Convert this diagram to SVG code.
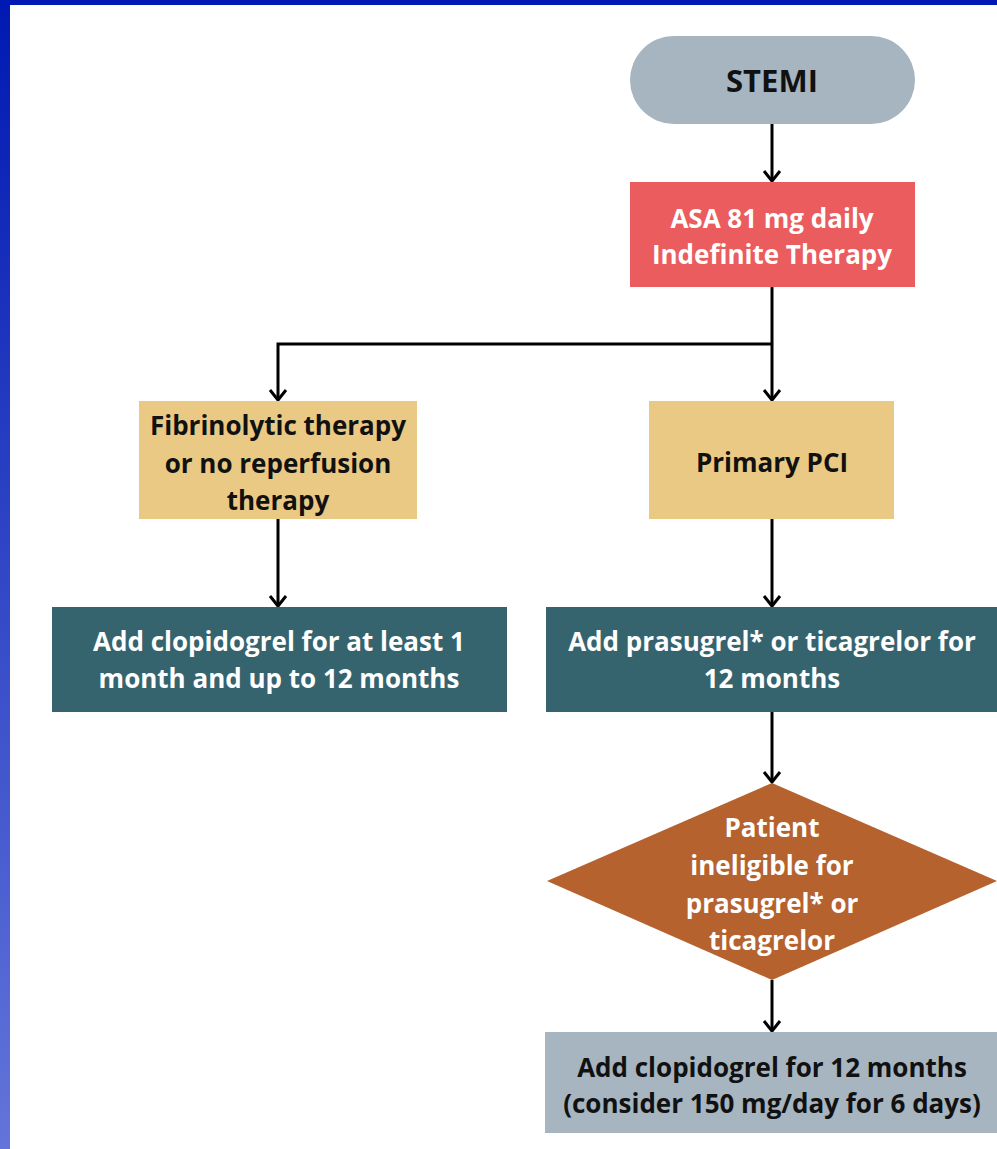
<svg xmlns="http://www.w3.org/2000/svg" width="997" height="1149" viewBox="0 0 997 1149">
<defs>
<linearGradient id="side" x1="0" y1="0" x2="0" y2="1">
<stop offset="0" stop-color="#0019B2"/>
<stop offset="1" stop-color="#6375DA"/>
</linearGradient>
<marker id="arr" viewBox="0 0 20 20" refX="17" refY="10" markerWidth="20" markerHeight="20" markerUnits="userSpaceOnUse" orient="auto">
<path d="M7,2 L17,10 L7,18" fill="none" stroke="#000" stroke-width="3"/>
</marker>
</defs>
<style>
.t{font-family:"Open Sans",Lato,"Liberation Sans",sans-serif;font-weight:bold;font-size:26px;text-anchor:middle;dominant-baseline:central}
.big{font-size:31px}
.w{fill:#ffffff}
.k{fill:#111111}
.c{fill:none;stroke:#000;stroke-width:3}
</style>
<rect width="997" height="1149" fill="#ffffff"/>
<rect x="0" y="0" width="997" height="5" fill="#0019B2"/>
<rect x="0" y="0" width="10" height="1149" fill="url(#side)"/>
<g id="connectors">
<path class="c" d="M772,124 V181" marker-end="url(#arr)"/>
<path class="c" d="M772,287 V400" marker-end="url(#arr)"/>
<path class="c" d="M772,344 H278 V400" marker-end="url(#arr)"/>
<path class="c" d="M278,519 V606" marker-end="url(#arr)"/>
<path class="c" d="M772,519 V606" marker-end="url(#arr)"/>
<path class="c" d="M772,712 V782" marker-end="url(#arr)"/>
<path class="c" d="M772,980 V1031" marker-end="url(#arr)"/>
</g>
<g id="stemi">
<rect x="630" y="36" width="285" height="88" rx="44" fill="#A6B5C0"/>
<text class="t k big" x="772" y="80">STEMI</text>
</g>
<g id="asa">
<rect x="630" y="182" width="285" height="105" fill="#EA5C5D"/>
<text class="t w" x="772" y="218">ASA 81 mg daily</text>
<text class="t w" x="772" y="254">Indefinite Therapy</text>
</g>
<g id="fibrinolytic">
<rect x="139" y="401" width="278" height="118" fill="#E9C983"/>
<text class="t k" x="278" y="425">Fibrinolytic therapy</text>
<text class="t k" x="278" y="463">or no reperfusion</text>
<text class="t k" x="278" y="500">therapy</text>
</g>
<g id="pci">
<rect x="649" y="401" width="245" height="118" fill="#E9C983"/>
<text class="t k" x="772" y="462">Primary PCI</text>
</g>
<g id="clopidogrel-left">
<rect x="52" y="607" width="455" height="105" fill="#35646F"/>
<text class="t w" x="279" y="641">Add clopidogrel for at least 1</text>
<text class="t w" x="279" y="678">month and up to 12 months</text>
</g>
<g id="prasugrel">
<rect x="546" y="607" width="451" height="105" fill="#35646F"/>
<text class="t w" x="772" y="641">Add prasugrel* or ticagrelor for</text>
<text class="t w" x="772" y="678">12 months</text>
</g>
<g id="ineligible">
<polygon points="772,783 997,881 772,980 547,881" fill="#B5622F"/>
<text class="t w" x="772" y="827">Patient</text>
<text class="t w" x="772" y="865">ineligible for</text>
<text class="t w" x="772" y="903">prasugrel* or</text>
<text class="t w" x="772" y="940">ticagrelor</text>
</g>
<g id="clopidogrel-right">
<rect x="545" y="1032" width="452" height="101" fill="#A6B5C0"/>
<text class="t k" x="772" y="1067">Add clopidogrel for 12 months</text>
<text class="t k" x="772" y="1103">(consider 150 mg/day for 6 days)</text>
</g>
</svg>
